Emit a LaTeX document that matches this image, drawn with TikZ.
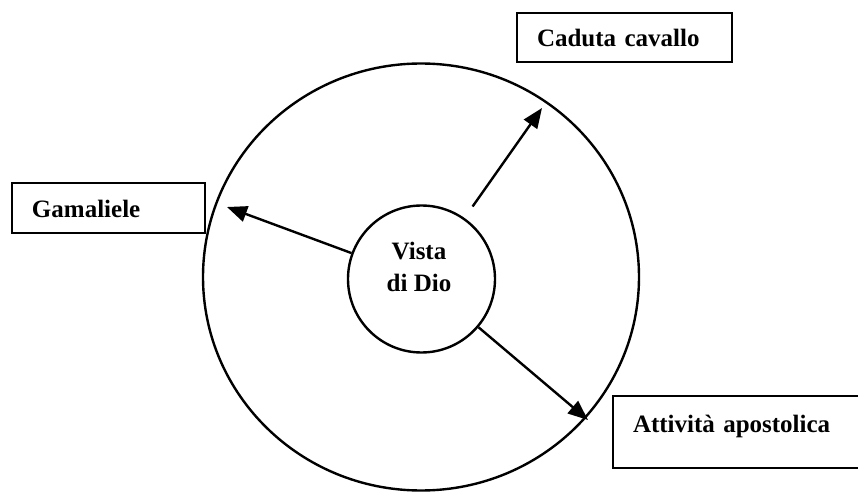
\documentclass[tikz,border=0pt]{standalone}
\usepackage{fontspec}
\setmainfont{Liberation Serif}
\usetikzlibrary{arrows.meta,shapes.geometric}

\begin{document}
\begin{tikzpicture}[
  x=0.5pt, y=-0.5pt,
  font=\bfseries\fontsize{12.5}{16}\selectfont,
  box/.style={rectangle, draw, line width=1.4pt, inner xsep=10pt, align=left, text height=9.5pt, text depth=0pt},
  ring/.style={draw, line width=1.2pt, inner sep=0pt},
  arr/.style={-{Triangle[length=10pt,width=8pt]}, line width=1.2pt}
]
\useasboundingbox (0,0) rectangle (858,492);

\node[ring, ellipse, minimum width=218pt, minimum height=213.5pt] (outer) at (421,277) {};
\node[ring, circle, minimum size=73.5pt] (vista) at (421.5,279) {};
\node[align=center, inner sep=0pt] (vistatxt) at (419,267) {Vista\\di Dio};

\node[box, text width=87.5pt, minimum height=24.5pt] (caduta) at (624.5,37.5) {Caduta cavallo};
\node[box, text width=76.5pt, minimum height=25pt] (gamaliele) at (108.5,208) {Gamaliele};
\node[box, text width=104.5pt, minimum height=36pt, text height=8pt, text depth=8pt] (attivita) at (737.5,432) {Attività apostolica};

\coordinate (tipcaduta) at (542,108);
\coordinate (tipgamaliele) at (227,207);
\coordinate (tipattivita) at (588,420);

\draw[arr, shorten <=7pt] (vista) -- (tipcaduta);
\draw[arr] (vista) -- (tipgamaliele);
\draw[arr] (vista) -- (tipattivita);
\end{tikzpicture}
\end{document}
